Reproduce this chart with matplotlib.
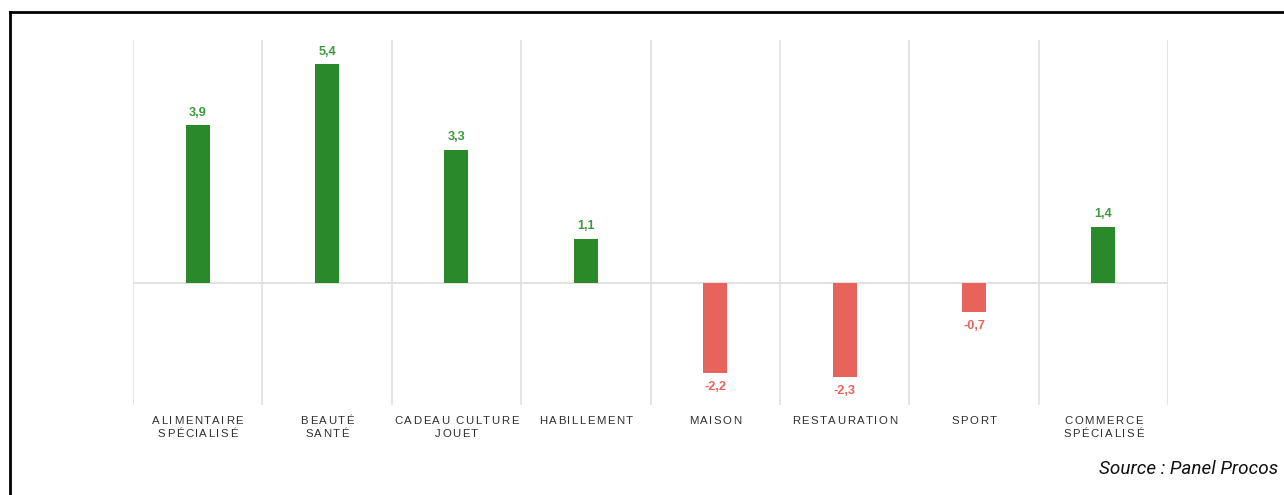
import matplotlib
matplotlib.use("Agg")
import matplotlib.pyplot as plt
from matplotlib.lines import Line2D
from matplotlib.font_manager import FontProperties, findfont, get_font
import numpy as np

categories = ["ALIMENTAIRE\nSPÉCIALISÉ", "BEAUTÉ\nSANTÉ", "CADEAU CULTURE\nJOUET",
              "HABILLEMENT", "MAISON", "RESTAURATION", "SPORT", "COMMERCE\nSPÉCIALISÉ"]
values = [3.9, 5.4, 3.3, 1.1, -2.2, -2.3, -0.7, 1.4]
labels = ["3,9", "5,4", "3,3", "1,1", "-2,2", "-2,3", "-0,7", "1,4"]

green = "#2a8a2a"
green_txt = "#3d9a3d"
red = "#e8635b"

W, H = 1284, 495
fig = plt.figure(figsize=(W / 100, H / 100), dpi=100)
ax = fig.add_axes([133 / W, 1 - 405 / H, (1168 - 133) / W, (405 - 40) / H])

x = np.arange(len(values))
cols = [green if v >= 0 else red for v in values]
ax.bar(x, values, width=0.186, color=cols, zorder=3)

ax.set_xlim(-0.5, len(values) - 0.5)
ax.set_ylim(-3, 6)

# vertical separators + zero line
for b in np.arange(-0.5, len(values), 1.0):
    ax.axvline(b, color="#e3e3e3", lw=1.3, zorder=1)
ax.axhline(0, color="#dddddd", lw=1.2, zorder=2)

for xi, v, t in zip(x, values, labels):
    if v >= 0:
        ax.annotate(t, (xi, v), xytext=(0, 4.5), textcoords="offset points",
                    ha="center", va="bottom", fontsize=9.2, fontweight="bold",
                    color=green_txt, family="Liberation Sans")
    else:
        ax.annotate(t, (xi, v), xytext=(0, -6), textcoords="offset points",
                    ha="center", va="top", fontsize=9.2, fontweight="bold",
                    color=red, family="Liberation Sans")

ax.set_xticks([])
ax.set_yticks([])
for s in ax.spines.values():
    s.set_visible(False)

# category labels with letter spacing (drawn char by char)
fp = FontProperties(family="Liberation Sans", size=8.2)
ft = get_font(findfont(fp))
ft.set_size(8.2, 100)
spacing = 1.5  # px


def adv(ch):
    return ft.load_char(ord(ch)).linearHoriAdvance / 65536


def spaced_text(s, cx, base_y):
    advs = [adv(ch) for ch in s]
    total = sum(advs) + spacing * (len(s) - 1)
    pos = cx - total / 2
    for ch, a in zip(s, advs):
        if ch != " ":
            fig.text((pos + a / 2) / W, 1 - base_y / H, ch, fontproperties=fp,
                     color="#2e2e2e", ha="center", va="baseline")
        pos += a + spacing


cat_w = (1168 - 133) / len(categories)
for i, cat in enumerate(categories):
    cx = 133 + (i + 0.5) * cat_w
    for j, line in enumerate(cat.split("\n")):
        spaced_text(line, cx, 424 + 13 * j)

# frame lines of the original screenshot
fig.add_artist(Line2D([10 / W, 1], [1 - 12 / H, 1 - 12 / H], color="black", lw=2))
fig.add_artist(Line2D([10 / W, 10 / W], [0, 1 - 12 / H], color="black", lw=2))

fig.text(1278 / W, 1 - 469 / H, "Source : Panel Procos", ha="right", va="center",
         fontsize=13.6, style="italic", family="Roboto", color="#111111")

fig.savefig("out.png", dpi=100)
